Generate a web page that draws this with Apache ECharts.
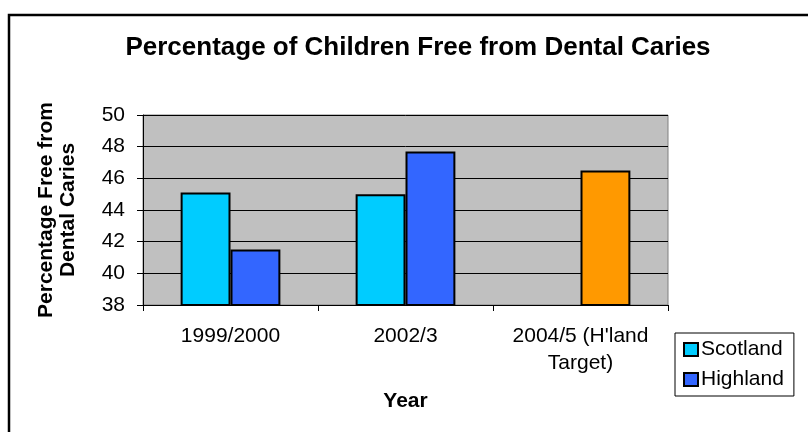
<!DOCTYPE html>
<html>
<head>
<meta charset="utf-8">
<script src="https://cdn.jsdelivr.net/npm/echarts@6/dist/echarts.min.js"></script>
<style>
  html, body { margin: 0; padding: 0; background: #fff; }
  #chart { width: 808px; height: 432px; }
</style>
</head>
<body>
<div id="chart"></div>
<script>
// ==============================
// data
// ==============================
const categories = ['1999/2000', '2002/3', "2004/5 (H'land\nTarget)"];
const scotland = [45.1, 45.0, null];
const highland = [41.5, 47.7, 46.5];
const targetIndex = 2; // the H'land target bar
const yTicks = { min: 38, max: 50, interval: 2 };

// colours
const colScotland = '#00CCFF';
const colHighland = '#3366FF';
const colTarget = '#FF9900';
const font = 'Liberation Sans, Arial, sans-serif';

const chart = echarts.init(document.getElementById('chart'), null, { renderer: 'canvas' });

const barStyle = (color) => ({ color: color, borderColor: '#000', borderWidth: 2 });

chart.setOption({
  animation: false,
  backgroundColor: '#fff',
  textStyle: { fontFamily: font, color: '#000' },
  graphic: [{
    type: 'rect',
    shape: { x: 9, y: 15, width: 830, height: 450 },
    style: { fill: 'none', stroke: '#000', lineWidth: 2.5 },
    silent: true
  }],
  title: {
    text: 'Percentage of Children Free from Dental Caries',
    left: 413,
    top: 30,
    textAlign: 'center',
    textStyle: { fontFamily: font, fontSize: 26, fontWeight: 'bold', color: '#000' }
  },
  legend: {
    orient: 'vertical',
    left: 675,
    top: 333,
    padding: [6, 10, 6, 8],
    itemGap: 9,
    itemWidth: 14,
    itemHeight: 13,
    icon: 'rect',
    backgroundColor: '#fff',
    borderColor: '#000',
    borderWidth: 1,
    borderRadius: 0,
    data: ['Scotland', 'Highland'],
    textStyle: { fontFamily: font, fontSize: 21, color: '#000', padding: [0, 0, 0, -2] }
  },
  grid: {
    left: 143,
    top: 115,
    width: 525,
    height: 190,
    show: true,
    backgroundColor: '#C0C0C0',
    borderColor: '#808080',
    borderWidth: 1,
    containLabel: false
  },
  xAxis: {
    type: 'category',
    data: categories,
    name: 'Year',
    nameLocation: 'middle',
    nameGap: 86,
    nameTextStyle: { fontFamily: font, fontSize: 21, fontWeight: 'bold', color: '#000' },
    axisLine: { lineStyle: { color: '#000', width: 1 } },
    axisTick: { show: true, length: 6, alignWithLabel: false, lineStyle: { color: '#000' } },
    axisLabel: { fontFamily: font, fontSize: 21, color: '#000', margin: 18, lineHeight: 27, interval: 0 },
    splitLine: { show: false }
  },
  yAxis: {
    type: 'value',
    min: yTicks.min,
    max: yTicks.max,
    interval: yTicks.interval,
    name: 'Percentage Free from\nDental Caries',
    nameLocation: 'middle',
    nameGap: 64,
    nameRotate: 90,
    nameTextStyle: { fontFamily: font, fontSize: 21, fontWeight: 'bold', color: '#000', lineHeight: 22 },
    axisLine: { show: true, lineStyle: { color: '#000', width: 1 } },
    axisTick: { show: true, length: 6, lineStyle: { color: '#000' } },
    axisLabel: { fontFamily: font, fontSize: 21, color: '#000', margin: 18 },
    splitLine: { show: true, lineStyle: { color: '#000', width: 1 } }
  },
  series: [
    {
      name: 'Scotland',
      type: 'bar',
      data: scotland.map(v => (v == null ? '-' : v)),
      barGap: '0%',
      barCategoryGap: '43%',
      itemStyle: barStyle(colScotland)
    },
    {
      name: 'Highland',
      type: 'bar',
      data: highland.map((v, i) => (i === targetIndex ? { value: v, itemStyle: { color: colTarget } } : v)),
      barGap: '0%',
      barCategoryGap: '43%',
      itemStyle: barStyle(colHighland)
    }
  ]
});
</script>
</body>
</html>
